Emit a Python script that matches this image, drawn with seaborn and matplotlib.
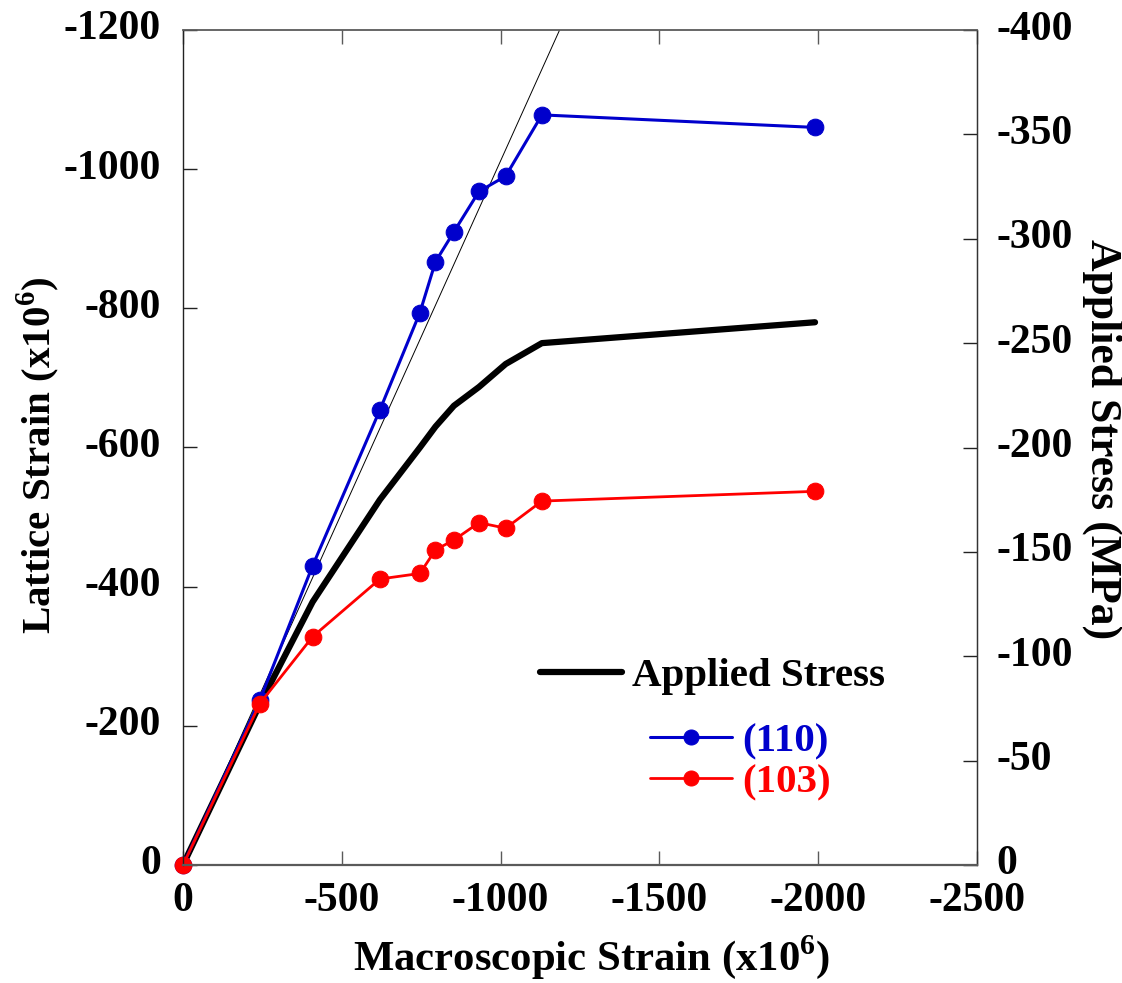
import numpy as np
import pandas as pd
import matplotlib
matplotlib.use("Agg")
import matplotlib.pyplot as plt
import matplotlib.transforms as mtransforms
import seaborn as sns

# Macroscopic strain (x10^6) at each load step
macro_strain = [0, -242, -408, -620, -746, -795, -853, -932, -1016, -1130, -1990]
# Lattice strain (x10^6) for the two reflections
lattice_110 = [0, -237, -430, -654, -794, -867, -910, -968, -990, -1078, -1060]
lattice_103 = [0, -232, -328, -411, -419, -453, -467, -492, -484, -523, -537]
# Applied stress (MPa)
applied_stress = [0, -77, -126, -175, -200, -210, -220, -229, -240, -250, -260]
# Elastic reference line slope (lattice / macroscopic)
elastic_slope = 1.012

x_ticks = [0, -500, -1000, -1500, -2000, -2500]
left_ticks = [0, -200, -400, -600, -800, -1000, -1200]
right_ticks = [0, -50, -100, -150, -200, -250, -300, -350, -400]

sns.set_style("ticks")
plt.rcParams["font.family"] = ["Liberation Serif", "DejaVu Serif"]
plt.rcParams["font.weight"] = "bold"
plt.rcParams["axes.labelweight"] = "bold"
plt.rcParams["axes.unicode_minus"] = False
plt.rcParams["mathtext.fontset"] = "custom"
plt.rcParams["mathtext.rm"] = "Liberation Serif:bold"
plt.rcParams["mathtext.bf"] = "Liberation Serif:bold"
plt.rcParams["text.color"] = "black"
plt.rcParams["axes.labelcolor"] = "black"
plt.rcParams["xtick.labelcolor"] = "black"
plt.rcParams["ytick.labelcolor"] = "black"

df110 = pd.DataFrame({"macro": macro_strain, "lattice": lattice_110})
df103 = pd.DataFrame({"macro": macro_strain, "lattice": lattice_103})
dfs = pd.DataFrame({"macro": macro_strain, "stress": applied_stress})

blue = "#0000CC"
red = "#FF0000"
spine_grey = "#5a5a5a"

fig = plt.figure(figsize=(11.22, 9.83), dpi=100)
ax = fig.add_axes([183 / 1122, 1 - 865 / 983, (977 - 183) / 1122, (865 - 30) / 983])
ax2 = ax.twinx()

# Applied stress on the right-hand axis
sns.lineplot(data=dfs, x="macro", y="stress", ax=ax2, color="black", lw=4.5,
             sort=False, estimator=None, legend=False)
stress_line = ax2.lines[0]

# Elastic line through the origin
ax.axline((0, 0), slope=elastic_slope, color="black", lw=0.7)

sns.lineplot(data=df110, x="macro", y="lattice", ax=ax, color=blue, lw=2.2,
             marker="o", markersize=12, markeredgecolor=blue, markerfacecolor=blue,
             sort=False, estimator=None, legend=False)
line110 = ax.lines[-1]
sns.lineplot(data=df103, x="macro", y="lattice", ax=ax, color=red, lw=2.0,
             marker="o", markersize=12, markeredgecolor=red, markerfacecolor=red,
             sort=False, estimator=None, legend=False)
line103 = ax.lines[-1]

ax.set_zorder(ax2.get_zorder() + 1)
ax.patch.set_visible(False)

ax.set_xlim(0, -2500)
ax.set_ylim(0, -1200)
ax2.set_ylim(0, -400)
for ln in (line110, line103, stress_line):
    ln.set_clip_on(False)

ax.set_xticks(x_ticks)
ax.set_yticks(left_ticks)
ax2.set_yticks(right_ticks)

ax.tick_params(axis="x", direction="in", length=10, width=1, pad=12,
               labelsize=30, top=True, bottom=True, color=spine_grey, labelcolor="black")
ax.tick_params(axis="y", direction="in", length=10, width=1, pad=16,
               labelsize=30, right=False, color="#222222", labelcolor="black")
ax2.tick_params(axis="y", direction="in", length=10, width=1, pad=14,
                labelsize=30, left=False, color="#222222", labelcolor="black")
for lab in ax.get_xticklabels() + ax.get_yticklabels() + ax2.get_yticklabels():
    lab.set_fontweight("bold")

# Vertical tick labels sit slightly above their ticks
lift = mtransforms.ScaledTranslation(0, 5 / 100, fig.dpi_scale_trans)
for a in (ax, ax2):
    for tick in a.yaxis.get_major_ticks():
        tick.label1.set_transform(tick.label1.get_transform() + lift)
        tick.label2.set_transform(tick.label2.get_transform() + lift)

for s in ("left", "right", "bottom", "top"):
    ax.spines[s].set_linewidth(1.0)
    ax2.spines[s].set_visible(False)
ax.spines["left"].set_color("#222222")
ax.spines["right"].set_color("#333333")
ax.spines["top"].set_color(spine_grey)
ax.spines["bottom"].set_color(spine_grey)
ax.spines["top"].set_linewidth(1.3)
ax.spines["bottom"].set_linewidth(1.6)
ax2.spines["right"].set_visible(True)
ax2.spines["right"].set_color("#333333")

ax.set_xlabel(r"Macroscopic Strain (x10$^{6}$)", fontsize=30.8, fontweight="bold")
ax.set_ylabel(r"Lattice Strain (x10$^{6}$)", fontsize=29.5, fontweight="bold")
ax2.set_ylabel("Applied Stress (MPa)", fontsize=31.5, fontweight="bold",
               rotation=270, va="bottom")
ax.xaxis.set_label_coords(0.515, -0.082)
ax.yaxis.set_label_coords(-0.153, 0.491)
ax2.yaxis.set_label_coords(1.132, 0.51)

leg1 = ax.legend(handles=[stress_line], labels=["Applied Stress"], loc="center left",
                 bbox_to_anchor=(540 / 1122, 1 - 676 / 983), bbox_transform=fig.transFigure,
                 frameon=False, handlelength=2.0, handletextpad=0.25, borderpad=0,
                 borderaxespad=0, labelcolor="black",
                 prop={"family": "Liberation Serif", "weight": "bold", "size": 29.5})
ax.add_artist(leg1)
leg2 = ax.legend(handles=[line110, line103], labels=["(110)", "(103)"], loc="center left",
                 bbox_to_anchor=(650 / 1122, 1 - 762 / 983), bbox_transform=fig.transFigure,
                 frameon=False, handlelength=2.0, handletextpad=0.25, borderpad=0,
                 borderaxespad=0, labelspacing=0.1, markerscale=0.9, labelcolor="linecolor",
                 prop={"family": "Liberation Serif", "weight": "bold", "size": 29.5})

fig.savefig("out.png", dpi=100)
